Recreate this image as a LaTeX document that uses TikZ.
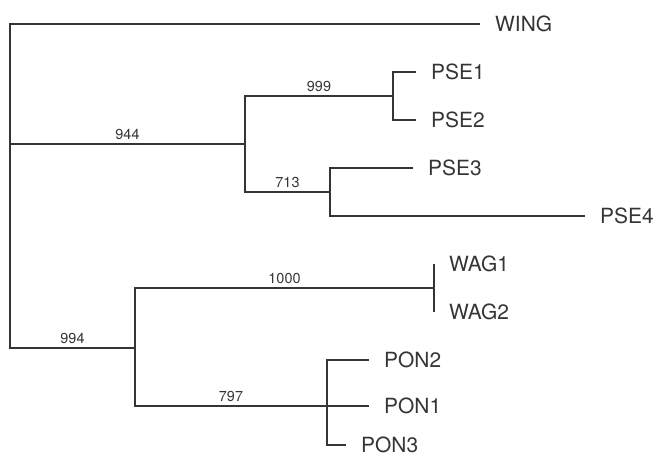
\documentclass[tikz,border=0pt]{standalone}
\usepackage{fontspec}
\setmainfont{TeX Gyre Heros}
\usepackage{xcolor}
\usetikzlibrary{positioning,calc}
\definecolor{ink}{HTML}{353535}

\begin{document}
\begin{tikzpicture}[x=1bp, y=-1bp, every node/.style={text=ink}]
  \tikzset{
    leaf/.style={anchor=west, inner xsep=15bp, inner ysep=0pt, font=\fontsize{21}{21}\selectfont},
    support/.style={above, inner sep=3.5bp, font=\fontsize{14.5}{14.5}\selectfont},
    branch/.style={draw=ink, line width=1.2bp}
  }
  \useasboundingbox (0,0) rectangle (657,460);

  % internal nodes
  \coordinate (root) at (10,185);
  \coordinate (n944) at (245,144);
  \coordinate (n999) at (393,96);
  \coordinate (n713) at (330,192);
  \coordinate (n994) at (135,348);
  \coordinate (n1000) at (434,288);
  \coordinate (n797) at (327,406);

  % leaves
  \node[leaf] (WING) at (480,24) {WING};
  \node[leaf] (PSE1) at (416,72) {PSE1};
  \node[leaf] (PSE2) at (416,120) {PSE2};
  \node[leaf] (PSE3) at (413,168) {PSE3};
  \node[leaf] (PSE4) at (585,216) {PSE4};
  \node[leaf] (WAG1) at (434,264) {WAG1};
  \node[leaf] (WAG2) at (434,312) {WAG2};
  \node[leaf] (PON2) at (369,360) {PON2};
  \node[leaf] (PON1) at (369,406) {PON1};
  \node[leaf] (PON3) at (346,445) {PON3};

  % branches
  \draw[branch] (root) |- (WING.west);
  \draw[branch] (root) |- (n944) node[support, pos=.75] (l944) {944};
  \draw[branch] (root) |- (n994) node[support, pos=.75] (l994) {994};
  \draw[branch] (n944) |- (n999) node[support, pos=.75] (l999) {999};
  \draw[branch] (n944) |- (n713) node[support, pos=.75] (l713) {713};
  \draw[branch] (n994) |- (n1000) node[support, pos=.75] (l1000) {1000};
  \draw[branch] (n994) |- (n797) node[support, pos=.75] (l797) {797};
  \foreach \t in {PSE1,PSE2} \draw[branch] (n999) |- (\t.west);
  \foreach \t in {PSE3,PSE4} \draw[branch] (n713) |- (\t.west);
  \foreach \t in {WAG1,WAG2} \draw[branch] (n1000) |- (\t.west);
  \foreach \t in {PON2,PON1,PON3} \draw[branch] (n797) |- (\t.west);
\end{tikzpicture}
\end{document}
